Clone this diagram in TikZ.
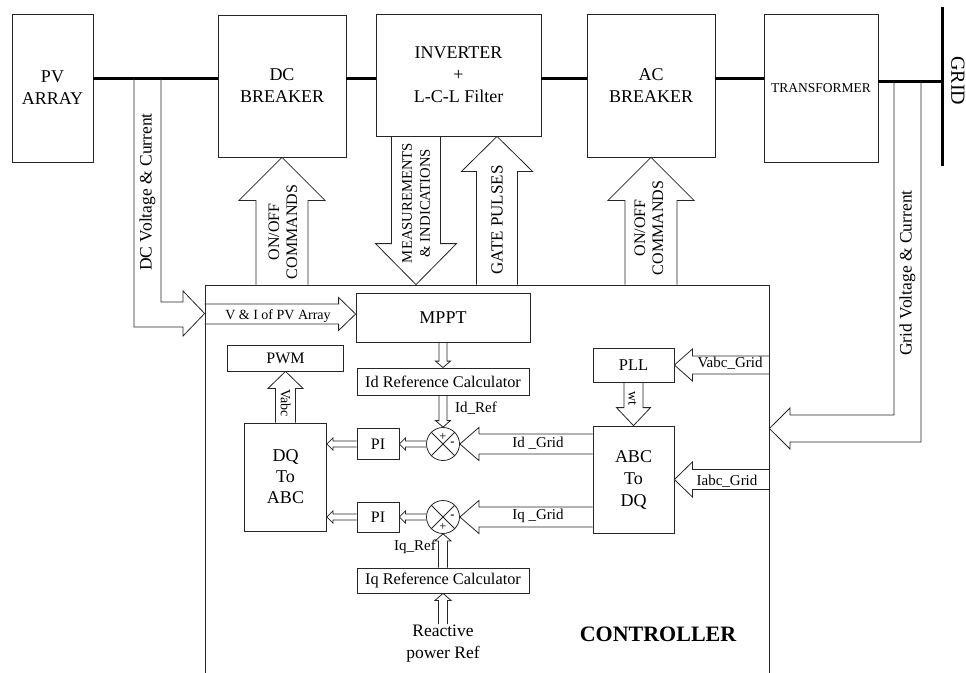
\documentclass[tikz,border=0pt]{standalone}
\usepackage{fontspec}
\setmainfont{Liberation Serif}
\usetikzlibrary{calc}

% hollow block arrow: from, to, shaft half width, head half width, head length
\newcommand{\bigarrow}[5]{%
  \coordinate (ba-h) at ($(#2)!#5!(#1)$);
  \draw[arr] ($(#1)!#3!90:(#2)$) -- ($(ba-h)!#3!90:(#2)$) -- ($(ba-h)!#4!90:(#2)$)
    -- (#2) -- ($(ba-h)!#4!-90:(#2)$) -- ($(ba-h)!#3!-90:(#2)$) -- ($(#1)!#3!-90:(#2)$);
}

\begin{document}
\begin{tikzpicture}[x=1pt, y=-1pt,
    blk/.style={draw=black!85, line width=0.8pt, align=center, inner sep=1pt},
    bus/.style={line width=3pt},
    arr/.style={draw=black!85, line width=0.8pt, line join=miter},
    sum/.style={draw=black!85, line width=0.8pt, circle, minimum size=33pt, inner sep=0pt,
        path picture={\draw[black!85, line width=0.8pt]
            (path picture bounding box.north west) -- (path picture bounding box.south east)
            (path picture bounding box.north east) -- (path picture bounding box.south west);}},
    big/.style={font=\fontsize{18}{22}\selectfont},
    calcbox/.style={blk, font=\fontsize{16.3}{18}\selectfont, minimum width=172pt},
    vlbl/.style={font=\fontsize{16}{18}\selectfont, align=center, inner sep=0pt},
    lbl/.style={font=\fontsize{15}{18}\selectfont, inner sep=0pt},
    sgn/.style={font=\fontsize{12.5}{13}\selectfont, inner sep=0pt}
]
\clip (0,0) rectangle (966,672);

% Power path
\node[blk, big, minimum width=81pt, minimum height=148pt] (pv) at (52.5,88) {PV\\ARRAY};
\node[blk, big, minimum width=128pt, minimum height=142pt] (dc) at (282,86) {DC\\BREAKER};
\node[blk, big, minimum width=165pt, minimum height=122pt] (inv) at (458.5,75) {INVERTER\\+\\L-C-L Filter};
\node[blk, big, minimum width=128pt, minimum height=143pt] (ac) at (651,85.5) {AC\\BREAKER};
\node[blk, font=\fontsize{13.5}{16}\selectfont, minimum width=114pt, minimum height=148pt] (tr) at (821,88) {TRANSFORMER};
\node[font=\fontsize{20}{24}\selectfont, rotate=-90, inner sep=0pt] (gridlbl) at (958,81) {GRID};

\coordinate (bus) at (0,78);
\coordinate (bus2) at (0,81);
\coordinate (gtop) at (942,7);
\coordinate (gbot) at (942,166);
\draw[bus] (pv.east |- bus) -- (dc.west |- bus);
\draw[bus] (dc.east |- bus) -- (inv.west |- bus);
\draw[bus] (inv.east |- bus) -- (ac.west |- bus);
\draw[bus] (ac.east |- bus) -- (tr.west |- bus);
\draw[bus] (tr.east |- bus2) -- (gtop |- bus2);
\draw[bus] (gtop) -- (gbot);

% Controller
\node[blk, minimum width=564pt, minimum height=420pt] (ctrl) at (487,495) {};
\node[font=\fontsize{22}{26}\selectfont\bfseries, inner sep=0pt] (ctrllbl) at (658,634) {CONTROLLER};

\node[blk, big, minimum width=174pt, minimum height=49pt] (mppt) at (443,317.5) {MPPT};
\node[calcbox, minimum height=27pt] (idc) at (443,381.5) {Id Reference Calculator};
\node[blk, font=\fontsize{16}{19}\selectfont, minimum width=116pt, minimum height=26pt] (pwm) at (285.5,358) {PWM};
\node[blk, font=\fontsize{18}{21}\selectfont, minimum width=82pt, minimum height=108pt] (dqabc) at (285.5,477) {DQ\\To\\ABC};
\node[blk, font=\fontsize{16}{19}\selectfont, minimum width=42pt, minimum height=31pt] (pi1) at (378,444) {PI};
\node[sum] (s1) at (443,444) {};
\node[blk, font=\fontsize{16}{19}\selectfont, minimum width=42pt, minimum height=30pt] (pi2) at (378,517) {PI};
\node[sum] (s2) at (443,517) {};
\node[calcbox, minimum height=25pt] (iqc) at (443,580.5) {Iq Reference Calculator};
\node[font=\fontsize{17.5}{22}\selectfont, align=center, inner sep=1pt] (qref) at (443,644) {Reactive\\power Ref};
\node[blk, font=\fontsize{16.5}{19}\selectfont, minimum width=81pt, minimum height=34pt] (pll) at (633.5,365) {PLL};
\node[blk, big, minimum width=81pt, minimum height=107pt] (abcdq) at (633.5,479.5) {ABC\\To\\DQ};

% Summing signs
\node[sgn] (s1p) at ([yshift=7.5pt]s1.center) {+};
\node[sgn] (s1m) at ([xshift=9.5pt]s1.center) {\textbf{-}};
\node[sgn] (s2m) at ([xshift=9.5pt]s2.center) {\textbf{-}};
\node[sgn] (s2p) at ([yshift=-9.5pt]s2.center) {+};

% Commands and measurements
\coordinate (on1) at (dc.south |- ctrl.north);
\bigarrow{on1}{dc.south}{26pt}{43pt}{43pt}
\coordinate (ms1) at ([xshift=-42.5pt]inv.south);
\coordinate (ms2) at (ms1 |- ctrl.north);
\bigarrow{ms1}{ms2}{24.5pt}{40.5pt}{41pt}
\coordinate (gp2) at ([xshift=38.5pt]inv.south);
\coordinate (gp1) at (gp2 |- ctrl.north);
\bigarrow{gp1}{gp2}{20.5pt}{35.5pt}{35pt}
\coordinate (on2) at (ac.south |- ctrl.north);
\bigarrow{on2}{ac.south}{26pt}{43pt}{43pt}

\node[vlbl, rotate=90] (on1lbl) at (283,232) {ON/OFF\\COMMANDS};
\node[vlbl, font=\fontsize{14.7}{18}\selectfont, rotate=90] (mslbl) at (416,203) {MEASUREMENTS\\\& INDICATIONS};
\node[vlbl, font=\fontsize{17}{20}\selectfont, rotate=90] (gplbl) at (497,220) {GATE PULSES};
\node[vlbl, rotate=90] (on2lbl) at (649,228) {ON/OFF\\COMMANDS};

% DC side sensing
\coordinate (dcv1) at (134,78);
\coordinate (dcv2) at (161,78);
\coordinate (dcin) at (ctrl.west |- 0,313.5);
\draw[arr] (dcv1) -- (134,327) -- (183,327) -- (183,336) -- (dcin)
    -- (183,291) -- (183,302) -- (161,302) -- (dcv2);
\node[font=\fontsize{17.5}{20}\selectfont, rotate=90, inner sep=0pt] (dcvlbl) at (147.5,192) {DC Voltage \& Current};

% Grid side sensing
\coordinate (gv1) at (894,81);
\coordinate (gv2) at (921,81);
\coordinate (gvin) at (ctrl.east |- 0,428.5);
\draw[arr] (gv1) -- (894,415) -- (790,415) -- (790,408) -- (gvin)
    -- (790,449) -- (790,442) -- (921,442) -- (gv2);
\node[font=\fontsize{17.5}{20}\selectfont, rotate=90, inner sep=0pt] (gvlbl) at (907.5,273) {Grid Voltage \& Current};

% Inner signals
\coordinate (pvin) at (ctrl.west |- 0,314);
\coordinate (pvout) at (mppt.west |- pvin);
\bigarrow{pvin}{pvout}{10pt}{16.5pt}{17pt}
\node[lbl, font=\fontsize{14}{16}\selectfont] (pvlbl) at (278,316) {V \& I of PV Array};

\bigarrow{dqabc.north}{pwm.south}{10pt}{17.5pt}{17pt}
\node[lbl, font=\fontsize{14}{16}\selectfont, rotate=-90] (vabclbl) at (285.5,403) {Vabc};

\bigarrow{pll.south}{abcdq.north}{9.5pt}{17pt}{18pt}
\node[lbl, font=\fontsize{14}{16}\selectfont, rotate=-90] (wtlbl) at (632.5,398) {wt};

\coordinate (vg) at (ctrl.east |- pll);
\bigarrow{vg}{pll.east}{9pt}{16pt}{18pt}
\node[lbl] (vglbl) at (730,363) {Vabc\_Grid};

\coordinate (ig) at (ctrl.east |- abcdq);
\bigarrow{ig}{abcdq.east}{10pt}{17.5pt}{18pt}
\node[lbl] (iglbl) at (727,481) {Iabc\_Grid};

\coordinate (idg) at (abcdq.west |- s1);
\bigarrow{idg}{s1.east}{10pt}{16.5pt}{19pt}
\node[lbl] (idglbl) at (538,443) {Id \_Grid};

\coordinate (iqg) at (abcdq.west |- s2);
\bigarrow{iqg}{s2.east}{10pt}{16.5pt}{19pt}
\node[lbl] (iqglbl) at (538,516) {Iq \_Grid};

% Small signal arrows
\bigarrow{mppt.south}{idc.north}{4pt}{7.5pt}{6.5pt}
\bigarrow{idc.south}{s1.north}{4pt}{7.5pt}{6.5pt}
\node[lbl] (idrlbl) at (476,408) {Id\_Ref};
\bigarrow{s1.west}{pi1.east}{3pt}{6pt}{6pt}
\coordinate (d1) at (dqabc.east |- pi1);
\bigarrow{pi1.west}{d1}{3pt}{6pt}{6pt}
\bigarrow{s2.west}{pi2.east}{3pt}{6pt}{6pt}
\coordinate (d2) at (dqabc.east |- pi2);
\bigarrow{pi2.west}{d2}{3pt}{6pt}{6pt}
\bigarrow{iqc.north}{s2.south}{4.5pt}{8pt}{7pt}
\node[lbl] (iqrlbl) at (415,547) {Iq\_Ref};
\bigarrow{qref.north}{iqc.south}{4.5pt}{8pt}{7pt}
\end{tikzpicture}
\end{document}
